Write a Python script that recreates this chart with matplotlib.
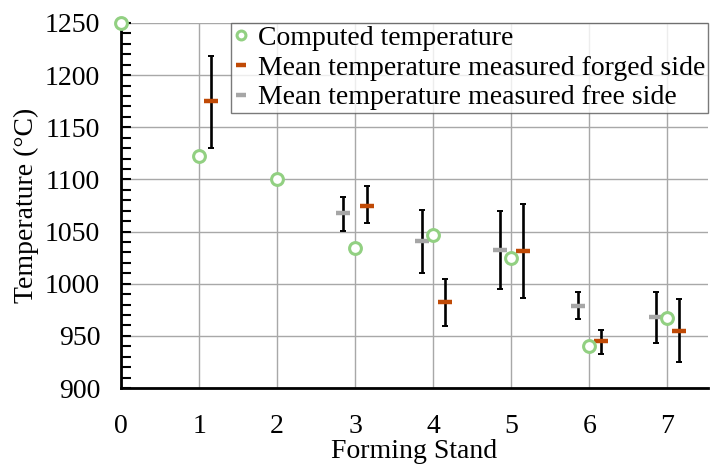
import matplotlib.pyplot as plt
from matplotlib.ticker import MultipleLocator

stands = [0, 1, 2, 3, 4, 5, 6, 7]
computed = [1250, 1122, 1100, 1034, 1047, 1025, 940, 967]

forged_x = [1.15, 3.15, 4.15, 5.15, 6.15, 7.15]
forged_mean = [1175, 1075, 982, 1031, 945, 955]
forged_top = [1218, 1094, 1005, 1076, 956, 985]
forged_bot = [1130, 1058, 959, 986, 933, 925]

free_x = [2.85, 3.85, 4.85, 5.85, 6.85]
free_mean = [1068, 1041, 1032, 979, 968]
free_top = [1083, 1071, 1070, 992, 992]
free_bot = [1051, 1010, 995, 966, 943]

plt.rcParams['font.family'] = ['Liberation Serif', 'DejaVu Serif']

fig = plt.figure(figsize=(7.1, 4.66), dpi=100)
ax = fig.add_axes([121 / 710, 1 - 388 / 466, (708 - 121) / 710, (388 - 23) / 466])

ax.set_xlim(0, 7.52)
ax.set_ylim(900, 1250)

# error bars first so markers sit on top
f_err = [[m - b for m, b in zip(forged_mean, forged_bot)], [t - m for m, t in zip(forged_mean, forged_top)]]
g_err = [[m - b for m, b in zip(free_mean, free_bot)], [t - m for m, t in zip(free_mean, free_top)]]
ax.errorbar(forged_x, forged_mean, yerr=f_err, fmt='none', ecolor='black', elinewidth=1.9, capsize=2.3, capthick=1.4, zorder=3)
ax.errorbar(free_x, free_mean, yerr=g_err, fmt='none', ecolor='black', elinewidth=1.9, capsize=2.3, capthick=1.4, zorder=3)

ax.plot(stands, computed, 'o', ls='none', ms=8.5, mfc='white', mec='#92d082', mew=2.2,
        label='Computed temperature', zorder=5, clip_on=False)
ax.plot(forged_x, forged_mean, '_', ls='none', ms=9.5, mew=3.2, color='#c04a06',
        label='Mean temperature measured forged side', zorder=4)
ax.plot(free_x, free_mean, '_', ls='none', ms=9.5, mew=3.2, color='#a6a6a6',
        label='Mean temperature measured free side', zorder=4)

ax.xaxis.set_major_locator(MultipleLocator(1))
ax.yaxis.set_major_locator(MultipleLocator(50))
ax.yaxis.set_minor_locator(MultipleLocator(10))
ax.grid(True, which='major', color='#a8a8a8', lw=1)
ax.set_axisbelow(True)

for s in ['top', 'right']:
    ax.spines[s].set_visible(False)
for s in ['left', 'bottom']:
    ax.spines[s].set_linewidth(2)

ax.tick_params(axis='x', length=0, pad=19, labelsize=20)
ax.tick_params(axis='y', which='major', direction='in', length=7, width=1.5, labelsize=20, pad=15)
ax.tick_params(axis='y', which='minor', direction='in', length=7, width=1.5)

ax.set_xlabel('Forming Stand', fontsize=20, labelpad=0)
ax.set_ylabel('Temperature (°C)', fontsize=20, labelpad=4)

leg = ax.legend(loc='upper right', fontsize=20, frameon=True, fancybox=False, edgecolor='#595959',
                borderpad=0.1, labelspacing=0.15, handlelength=0.5, handletextpad=0.35,
                borderaxespad=0.0, markerscale=0.75)
leg.get_frame().set_linewidth(1)

fig.savefig('out.png', dpi=100)
